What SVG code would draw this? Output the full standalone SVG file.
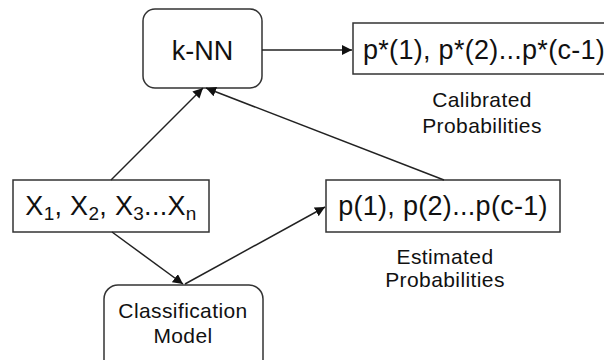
<svg xmlns="http://www.w3.org/2000/svg" width="604" height="360" viewBox="0 0 604 360">
<style>
.box{fill:#fff;stroke:#333;stroke-width:1.5}
.t{font-family:"Liberation Sans",Arial,sans-serif;fill:#111}
.big{font-size:27px;letter-spacing:0.3px}
.lab{font-size:21px;text-anchor:middle;letter-spacing:0.4px}
.c{stroke:#222;stroke-width:1.5;fill:none}
</style>
<defs>
<marker id="ah" viewBox="0 0 10 10" refX="10" refY="5" markerWidth="10" markerHeight="10" markerUnits="userSpaceOnUse" orient="auto">
<path d="M0,0 L10,5 L0,10 z" fill="#111"/>
</marker>
</defs>
<rect width="604" height="360" fill="#fff"/>
<g id="knn">
<rect class="box" x="143" y="9" width="119" height="79" rx="12"/>
<text class="t" x="202.5" y="60" font-size="27" text-anchor="middle">k-NN</text>
</g>
<g id="calibrated">
<rect class="box" x="353" y="23" width="255" height="51"/>
<text class="t big" x="363" y="59">p*(1), p*(2)...p*(c-1)</text>
<text class="t lab" x="482" y="107">Calibrated</text>
<text class="t lab" x="482" y="133">Probabilities</text>
</g>
<g id="inputs">
<rect class="box" x="13" y="180" width="196" height="52"/>
<text class="t big" x="111" y="215" text-anchor="middle">X<tspan font-size="19" dy="5">1</tspan><tspan dy="-5">, X</tspan><tspan font-size="19" dy="5">2</tspan><tspan dy="-5">, X</tspan><tspan font-size="19" dy="5">3</tspan><tspan dy="-5">...X</tspan><tspan font-size="19" dy="5">n</tspan></text>
</g>
<g id="estimated">
<rect class="box" x="326" y="180" width="234" height="52"/>
<text class="t big" x="443" y="215" text-anchor="middle">p(1), p(2)...p(c-1)</text>
<text class="t lab" x="445" y="264">Estimated</text>
<text class="t lab" x="445" y="287">Probabilities</text>
</g>
<g id="classification">
<rect class="box" x="104" y="285" width="159" height="90" rx="14"/>
<text class="t lab" x="183" y="318">Classification</text>
<text class="t lab" x="183" y="343">Model</text>
</g>
<g id="connectors">
<line class="c" x1="262" y1="50" x2="352" y2="50" marker-end="url(#ah)"/>
<line class="c" x1="111" y1="180" x2="203" y2="88" marker-end="url(#ah)"/>
<line class="c" x1="444" y1="180" x2="206" y2="88" marker-end="url(#ah)"/>
<line class="c" x1="112" y1="232" x2="183" y2="284" marker-end="url(#ah)"/>
<line class="c" x1="185" y1="284" x2="325" y2="207" marker-end="url(#ah)"/>
</g>
</svg>
